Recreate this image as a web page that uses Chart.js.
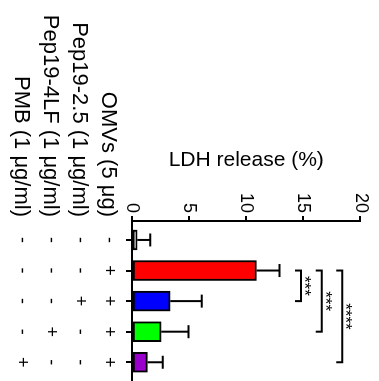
<!DOCTYPE html>
<html>
<head>
<meta charset="utf-8">
<script src="https://cdn.jsdelivr.net/npm/chart.js@4.4.1/dist/chart.umd.min.js"></script>
<style>
  html, body { margin:0; padding:0; background:#fff; width:379px; height:381px; overflow:hidden; }
  #wrap { position:absolute; left:0; top:0; width:381px; height:379px;
          transform-origin:0 0; transform:translateX(379px) rotate(90deg); }
</style>
</head>
<body>
<div id="wrap"><canvas id="c" width="381" height="379"></canvas></div>
<script>
// ---- data ----
const rowLabels = ['OMVs (5 μg)', 'Pep19-2.5 (1 μg/ml)', 'Pep19-4LF (1 μg/ml)', 'PMB (1 μg/ml)'];
const omvs   = ['-', '+', '+', '+', '+'];
const pep25  = ['-', '-', '+', '-', '-'];
const pep4lf = ['-', '-', '-', '+', '-'];
const pmb    = ['-', '-', '-', '-', '+'];
const ldh    = [0.45, 10.9, 3.35, 2.55, 1.35];
const ldhErr = [1.15, 2.0, 2.75, 2.4, 1.35];
const barColors = ['#ffffff', '#ff0000', '#0000ff', '#00ff00', '#9900cc'];
const yTicks = [0, 5, 10, 15, 20];
const sigFrom  = [1, 1, 1];
const sigTo    = [2, 3, 4];
const sigLevel = [14.8, 16.6, 18.4];
const sigText  = ['***', '***', '****'];
const axisTitle = 'LDH release (%)';

const FONT = "'Liberation Sans', Arial, sans-serif";
const TICK_LEN = 6, TICK_PAD = 3, LINE_H = 29;
const X_MIN = 0.38, X_MAX = 5.58;

const rows = [omvs, pep25, pep4lf, pmb];
const points = ldh.map((v, i) => ({ x: i + 1, y: v }));

const annot = {
  id: 'annot',
  afterDatasetsDraw(chart) {
    const { ctx, scales: { x, y } } = chart;
    ctx.save();
    ctx.strokeStyle = '#000';
    ctx.lineWidth = 2;
    ldh.forEach((v, i) => {
      const px = x.getPixelForValue(i + 1);
      const y0 = y.getPixelForValue(v);
      const y1 = y.getPixelForValue(v + ldhErr[i]);
      ctx.beginPath();
      ctx.moveTo(px, y0); ctx.lineTo(px, y1);
      ctx.moveTo(px - 6.5, y1); ctx.lineTo(px + 6.5, y1);
      ctx.stroke();
    });
    ctx.fillStyle = '#000';
    ctx.font = '17px ' + FONT;
    ctx.textAlign = 'center';
    ctx.textBaseline = 'alphabetic';
    sigLevel.forEach((lv, k) => {
      const xa = x.getPixelForValue(sigFrom[k] + 1);
      const xb = x.getPixelForValue(sigTo[k] + 1);
      const yl = y.getPixelForValue(lv);
      ctx.beginPath();
      ctx.moveTo(xa, yl + 6); ctx.lineTo(xa, yl); ctx.lineTo(xb, yl); ctx.lineTo(xb, yl + 6);
      ctx.stroke();
      ctx.fillText(sigText[k], (xa + xb) / 2, yl + 2);
    });
    ctx.restore();
  },
  afterDraw(chart) {
    const { ctx, scales: { x } } = chart;
    ctx.save();
    ctx.fillStyle = '#000';
    ctx.font = '22px ' + FONT;
    ctx.textAlign = 'right';
    ctx.textBaseline = 'middle';
    const top = x.top + TICK_LEN + TICK_PAD;
    rowLabels.forEach((t, i) => {
      ctx.fillText(t, x.left - 4, top + LINE_H * (i + 0.5));
    });
    ctx.restore();
  }
};

new Chart(document.getElementById('c'), {
  type: 'bar',
  data: {
    datasets: [{
      data: points,
      backgroundColor: barColors,
      borderColor: '#000',
      borderWidth: 2,
      borderSkipped: false,
      barThickness: 20
    }]
  },
  options: {
    responsive: false,
    animation: false,
    layout: { padding: { left: 148, top: 18.5, right: 1, bottom: 0 } },
    plugins: { legend: { display: false }, tooltip: { enabled: false } },
    scales: {
      x: {
        type: 'linear',
        offset: false,
        bounds: 'data',
        min: X_MIN, max: X_MAX,
        afterBuildTicks: (s) => {
          s.ticks = ldh.map((_, i) => ({ value: i + 1 }));
          s.min = X_MIN; s.max = X_MAX;
        },
        afterFit: (s) => { s.height = 132; },
        ticks: {
          autoSkip: false, maxRotation: 0, minRotation: 0,
          padding: TICK_PAD, color: '#000',
          font: { family: FONT, size: 18, lineHeight: LINE_H + 'px' },
          callback: (v) => rows.map(r => r[Math.round(v) - 1])
        },
        grid: { offset: false, drawOnChartArea: false, drawTicks: true, tickLength: TICK_LEN, color: '#000', lineWidth: 2 },
        border: { color: '#000', width: 2 }
      },
      y: {
        min: 0, max: 20,
        afterBuildTicks: (s) => { s.ticks = yTicks.map(v => ({ value: v })); },
        afterFit: (s) => { s.width = 73; },
        ticks: { padding: 3, color: '#000', font: { family: FONT, size: 18 } },
        grid: { drawOnChartArea: false, drawTicks: true, tickLength: 5, color: '#000', lineWidth: 2 },
        border: { color: '#000', width: 2 },
        title: { display: true, text: axisTitle, color: '#000', padding: 0,
                 font: { family: FONT, size: 21 } }
      }
    }
  },
  plugins: [annot]
});
</script>
</body>
</html>
